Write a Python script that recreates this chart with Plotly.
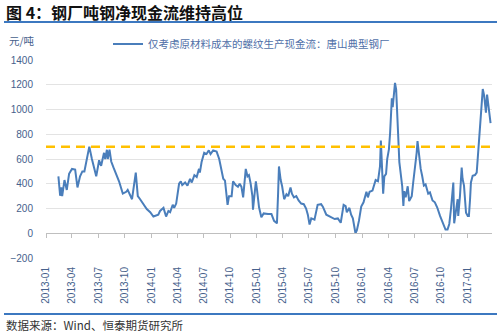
import plotly.graph_objects as go

# ---------------- data ----------------
dates = [
    "2013-02-13","2013-02-19","2013-02-23","2013-02-26","2013-03-06","2013-03-14","2013-03-22","2013-04-01",
    "2013-04-12","2013-04-20","2013-04-29","2013-05-07","2013-05-14","2013-05-22","2013-05-31","2013-06-09",
    "2013-06-17","2013-06-24","2013-07-04","2013-07-11","2013-07-21","2013-07-25","2013-07-31","2013-08-03",
    "2013-08-09","2013-08-15","2013-08-23","2013-09-03","2013-09-11","2013-09-24","2013-10-06","2013-10-11",
    "2013-10-19","2013-10-26","2013-11-08","2013-11-15","2013-11-23","2013-12-04","2013-12-16","2013-12-28",
    "2014-01-08","2014-01-25","2014-01-31","2014-02-12","2014-02-21","2014-03-01","2014-03-07","2014-03-16",
    "2014-03-21","2014-03-28","2014-04-01","2014-04-07","2014-04-13","2014-04-18","2014-04-28","2014-05-06",
    "2014-05-15","2014-05-21","2014-05-30","2014-06-07","2014-06-15","2014-06-18","2014-06-24","2014-07-03",
    "2014-07-11","2014-07-19","2014-07-25","2014-08-03","2014-08-15","2014-08-24","2014-09-07","2014-09-13",
    "2014-09-22","2014-09-27","2014-10-06","2014-10-11","2014-10-20","2014-10-28","2014-11-03","2014-11-09",
    "2014-11-15","2014-11-24","2014-11-30","2014-12-05","2014-12-11","2014-12-17","2014-12-19","2014-12-29",
    "2015-01-02","2015-01-09","2015-01-17","2015-01-25","2015-02-09","2015-02-21","2015-03-02","2015-03-12",
    "2015-03-16","2015-03-19","2015-03-25","2015-03-30","2015-04-06","2015-04-14","2015-04-20","2015-04-28",
    "2015-05-03","2015-05-10","2015-05-18","2015-05-26","2015-06-04","2015-06-13","2015-06-21","2015-06-27",
    "2015-07-03","2015-07-09","2015-07-20","2015-07-31","2015-08-12","2015-08-18","2015-08-30","2015-09-08",
    "2015-09-16","2015-09-28","2015-10-09","2015-10-19","2015-10-29","2015-11-05","2015-11-09","2015-11-18",
    "2015-11-24","2015-11-30","2015-12-09","2015-12-14","2015-12-21","2015-12-29","2016-01-06","2016-01-16",
    "2016-01-21","2016-01-27","2016-02-06","2016-02-17","2016-02-25","2016-03-03","2016-03-06","2016-03-11",
    "2016-03-14","2016-03-18","2016-03-24","2016-03-28","2016-04-03","2016-04-07","2016-04-10","2016-04-13",
    "2016-04-16","2016-04-21","2016-04-24","2016-04-28","2016-05-02","2016-05-05","2016-05-09","2016-05-15",
    "2016-05-19","2016-05-23","2016-05-26","2016-05-31","2016-06-07","2016-06-12","2016-06-21","2016-06-26",
    "2016-07-02","2016-07-08","2016-07-11","2016-07-16","2016-07-22","2016-07-27","2016-08-02","2016-08-08",
    "2016-08-17","2016-08-23","2016-09-01","2016-09-09","2016-09-17","2016-09-27","2016-10-03","2016-10-08",
    "2016-10-16","2016-10-23","2016-10-29","2016-11-04","2016-11-10","2016-11-12","2016-11-15","2016-11-21",
    "2016-11-27","2016-11-29","2016-12-05","2016-12-11","2016-12-14","2016-12-19","2016-12-22","2016-12-26",
    "2017-01-01","2017-01-05","2017-01-09","2017-01-12","2017-01-18","2017-01-26","2017-02-01","2017-02-04",
    "2017-02-09","2017-02-15","2017-02-22","2017-02-27","2017-03-05","2017-03-09","2017-03-14","2017-03-21",
]
cash_flow = [
    460, 303, 370, 300, 430, 350, 480, 520,
    515, 370, 460, 500, 500, 600, 700, 600,
    530, 460, 590, 545, 650, 600, 675, 600,
    675, 580, 530, 470, 420, 320, 335, 350,
    305, 275, 490, 300, 275, 240, 195, 170,
    135, 150, 180, 205, 135, 180, 170, 230,
    205, 240, 325, 400, 420, 390, 410, 385,
    440, 410, 470, 455, 520, 490, 575, 650,
    640, 670, 640, 670, 660, 600, 440, 425,
    230, 300, 300, 420, 390, 375, 400, 375,
    290, 520, 460, 470, 400, 300, 190, 420,
    350, 210, 130, 160, 155, 155, 100, 80,
    320, 540, 430, 380, 275, 315, 300, 370,
    320, 290, 300, 265, 240, 235, 200, 150,
    70, 120, 110, 230, 235, 215, 150, 140,
    125, 115, 120, 85, 230, 220, 170, 205,
    150, 120, 0, 25, 100, 215, 250, 335,
    290, 335, 345, 430, 420, 540, 750, 480,
    320, 460, 480, 600, 680, 810, 1010, 1090,
    1020, 1140, 1215, 1160, 1000, 790, 575, 440,
    380, 220, 340, 290, 380, 260, 300, 410,
    520, 650, 745, 630, 520, 465, 385, 395,
    320, 330, 265, 250, 210, 140, 100, 75,
    30, 30, 75, 200, 330, 410, 80, 200,
    275, 140, 300, 530, 440, 385, 250, 165,
    140, 140, 275, 410, 465, 470, 490, 600,
    760, 990, 1165, 1110, 975, 1120, 1030, 890,
]
threshold = 700
series_name = "仅考虑原材料成本的螺纹生产现金流：唐山典型钢厂"
title_text = "图 4：钢厂吨钢净现金流维持高位"
unit_text = "元/吨"
source_text = "数据来源：Wind、恒泰期货研究所"
x_range = ["2013-01-01", "2017-03-26"]
y_range = [-200, 1400]

# ---------------- layout geometry ----------------
W, H = 499, 334
ML, MR, MT, MB = 46, 7, 60, 76
PW, PH = W - ML - MR, H - MT - MB


def px_x(px):
    return (px - ML) / PW


def px_y(py):
    return (H - MB - py) / PH


AXIS_FONT = "Liberation Sans, Arial, sans-serif"
CJK_FONT = "Noto Sans CJK SC, sans-serif"
LABEL_COLOR = "#46618C"
BLUE = "#4A7EBB"
RULE = "#3C78C0"

fig = go.Figure()

fig.add_trace(go.Scatter(
    x=dates, y=cash_flow, mode="lines", name=series_name,
    line=dict(color=BLUE, width=2), xaxis="x", yaxis="y",
))

fig.add_trace(go.Scatter(
    x=x_range, y=[threshold, threshold], mode="lines", showlegend=False,
    line=dict(color="#FFC000", width=2.5, dash="9px,6px"), xaxis="x2", yaxis="y",
    hoverinfo="skip",
))

zero_frac = (0 - y_range[0]) / (y_range[1] - y_range[0])

fig.update_layout(
    width=W, height=H, autosize=False,
    margin=dict(l=ML, r=MR, t=MT, b=MB, pad=0),
    paper_bgcolor="white", plot_bgcolor="white",
    font=dict(family=AXIS_FONT, size=10, color=LABEL_COLOR),
    xaxis=dict(
        type="date", range=x_range, showgrid=False, showline=False, zeroline=False,
        ticks="", tick0="2013-01-01", dtick="M3", tickformat="%Y-%m", tickangle=-90,
        tickfont=dict(family=AXIS_FONT, size=10, color=LABEL_COLOR),
        ticklabelstandoff=6,
    ),
    xaxis2=dict(
        type="date", range=x_range, matches="x", overlaying="x", anchor="free",
        position=zero_frac, showgrid=False, showline=True, linecolor="#BFBFBF",
        linewidth=1, ticks="outside", ticklen=4, tickcolor="#BFBFBF",
        tick0="2013-01-01", dtick="M3", showticklabels=False, zeroline=False,
    ),
    yaxis=dict(
        range=y_range, dtick=200, showgrid=True, gridcolor="#E3E3E3", gridwidth=1,
        zeroline=False, showline=False, ticks="",
        tickfont=dict(family=AXIS_FONT, size=10, color=LABEL_COLOR),
        ticklabelstandoff=12,
    ),
    legend=dict(
        orientation="h", x=px_x(108), y=px_y(44), xanchor="left", yanchor="middle",
        font=dict(family=CJK_FONT, size=10.5, color="#4F6FA8"),
        bgcolor="rgba(0,0,0,0)", itemwidth=30,
    ),
    showlegend=True,
)

# title, unit, source
fig.add_annotation(text=title_text, xref="paper", yref="paper", x=px_x(4), y=px_y(12),
                   xanchor="left", yanchor="middle", showarrow=False,
                   font=dict(family=CJK_FONT, size=16, color="#111111", weight="bold"))
fig.add_annotation(text=unit_text, xref="paper", yref="paper", x=px_x(7), y=px_y(40),
                   xanchor="left", yanchor="middle", showarrow=False,
                   font=dict(family=CJK_FONT, size=10.5, color=LABEL_COLOR))
fig.add_annotation(text=source_text, xref="paper", yref="paper", x=px_x(4), y=px_y(325),
                   xanchor="left", yanchor="middle", showarrow=False,
                   font=dict(family=CJK_FONT, size=11.5, color="#333333"))

# decorative rules
for py in (22, 314):
    fig.add_shape(type="line", xref="paper", yref="paper", x0=px_x(4), x1=px_x(497),
                  y0=px_y(py), y1=px_y(py), line=dict(color=RULE, width=2))

fig.write_html("out.html")
